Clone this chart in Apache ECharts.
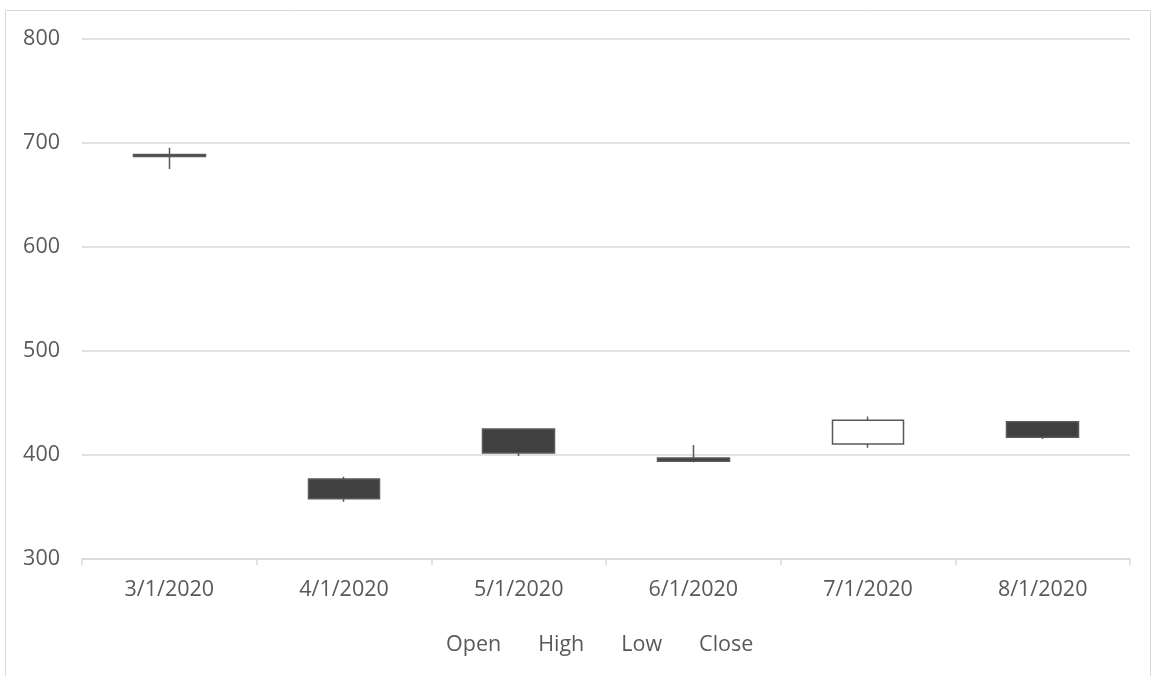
<!DOCTYPE html>
<html>
<head>
<meta charset="utf-8">
<script src="https://cdn.jsdelivr.net/npm/echarts@6/dist/echarts.min.js"></script>
<style>
  html, body { margin: 0; padding: 0; background: #fff; }
  #chart { width: 1160px; height: 676px; }
</style>
</head>
<body>
<div id="chart"></div>
<script>
// Monthly stock prices
const dates = ['3/1/2020', '4/1/2020', '5/1/2020', '6/1/2020', '7/1/2020', '8/1/2020'];
const openPrices  = [689, 377, 425, 397, 410.5, 432];
const highPrices  = [695.5, 379, 425, 409.5, 437, 432];
const lowPrices   = [675, 355, 399, 393, 407, 415.5];
const closePrices = [687, 358, 402, 394, 433.5, 417];
const legendNames = ['Open', 'High', 'Low', 'Close'];

// ECharts candlestick order: [open, close, low, high]
const ohlc = dates.map((d, i) => [openPrices[i], closePrices[i], lowPrices[i], highPrices[i]]);

const FONT = '"Open Sans", "Liberation Sans", sans-serif';
const chart = echarts.init(document.getElementById('chart'), null, { renderer: 'canvas' });

const series = [{
  type: 'candlestick',
  name: 'Price',
  data: ohlc,
  barWidth: 72,
  itemStyle: {
    color: '#ffffff',
    color0: '#404040',
    borderColor: '#595959',
    borderColor0: '#595959',
    borderWidth: 1.5
  }
}];
// Legend-only entries for the four price fields
legendNames.forEach(n => series.push({ type: 'line', name: n, data: [], symbol: 'none' }));

chart.setOption({
  animation: false,
  backgroundColor: '#ffffff',
  graphic: [{
    type: 'rect',
    shape: { x: 5.5, y: 10.5, width: 1145, height: 700 },
    style: { fill: 'none', stroke: '#d9d9d9', lineWidth: 1 },
    silent: true,
    z: -1
  }],
  grid: { left: 82, right: 30, top: 39, bottom: 117 },
  legend: {
    data: legendNames.map(n => ({ name: n, icon: 'none' })),
    left: 436,
    top: 629,
    itemWidth: 0,
    itemHeight: 0,
    itemGap: 32,
    selectedMode: false,
    textStyle: { color: '#595959', fontSize: 21.5, fontFamily: FONT }
  },
  xAxis: {
    type: 'category',
    data: dates,
    boundaryGap: true,
    axisLine: { lineStyle: { color: '#d9d9d9', width: 1.5 } },
    axisTick: { show: true, length: 6, lineStyle: { color: '#d9d9d9', width: 1.5 } },
    axisLabel: { color: '#595959', fontSize: 21.5, fontFamily: FONT, margin: 20 },
    splitLine: { show: false }
  },
  yAxis: {
    type: 'value',
    min: 300,
    max: 800,
    interval: 100,
    axisLine: { show: false },
    axisTick: { show: false },
    axisLabel: { color: '#595959', fontSize: 21.5, fontFamily: FONT, margin: 22 },
    splitLine: { lineStyle: { color: '#d9d9d9', width: 1.5 } }
  },
  series: series
});
</script>
</body>
</html>
